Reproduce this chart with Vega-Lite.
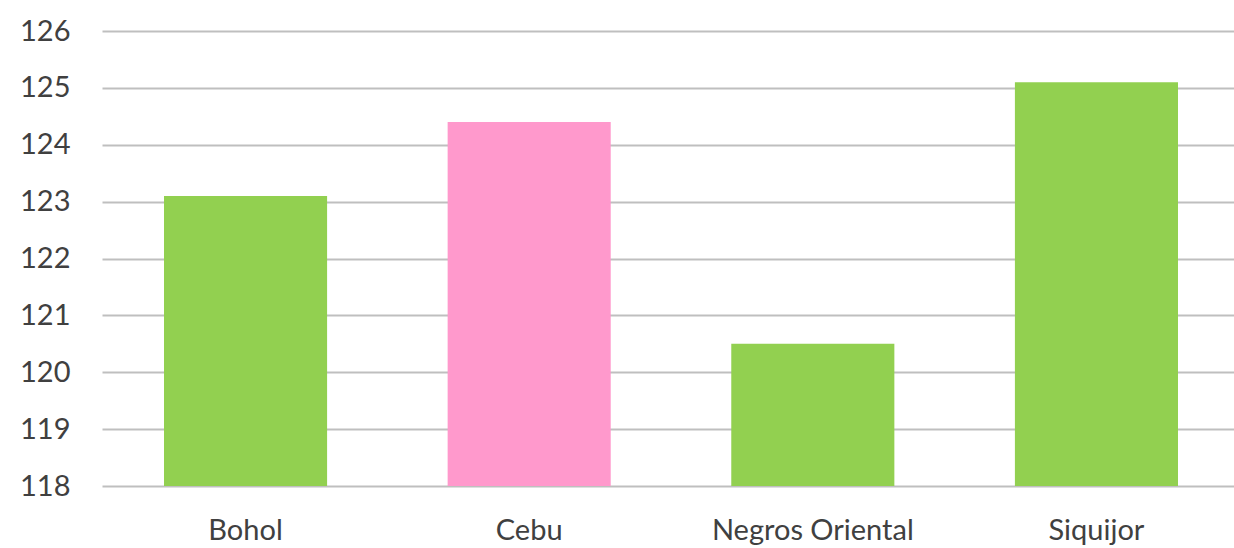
{
  "$schema": "https://vega.github.io/schema/vega-lite/v6.json",
  "autosize": "none",
  "width": 1132,
  "height": 455,
  "padding": {"left": 102, "top": 31, "right": 0, "bottom": 62},
  "background": "white",
  "config": {"view": {"stroke": null}},
  "data": {
    "values": [
      {"province": "Bohol", "value": 123.1, "group": "g"},
      {"province": "Cebu", "value": 124.4, "group": "p"},
      {"province": "Negros Oriental", "value": 120.5, "group": "g"},
      {"province": "Siquijor", "value": 125.1, "group": "g"}
    ]
  },
  "mark": {"type": "bar", "clip": true},
  "encoding": {
    "x": {
      "field": "province",
      "type": "nominal",
      "sort": null,
      "scale": {"paddingInner": 0.425, "paddingOuter": 0.2186, "range": [0, 1138]},
      "axis": {
        "title": null,
        "labelAngle": 0,
        "labelFont": "Lato",
        "labelFontSize": 29,
        "labelColor": "#404040",
        "labelPadding": 30,
        "labelLimit": 0,
        "ticks": false,
        "domain": false
      }
    },
    "y": {
      "field": "value",
      "type": "quantitative",
      "scale": {"domain": [118, 126], "zero": false, "nice": false},
      "axis": {
        "title": null,
        "values": [118, 119, 120, 121, 122, 123, 124, 125, 126],
        "labelFont": "Lato",
        "labelFontSize": 29,
        "labelColor": "#404040",
        "labelPadding": 32,
        "ticks": false,
        "domain": false,
        "grid": true,
        "gridColor": "#bfbfbf",
        "gridWidth": 2
      }
    },
    "color": {
      "field": "group",
      "type": "nominal",
      "scale": {"domain": ["g", "p"], "range": ["#92d050", "#ff99cc"]},
      "legend": null
    }
  }
}
